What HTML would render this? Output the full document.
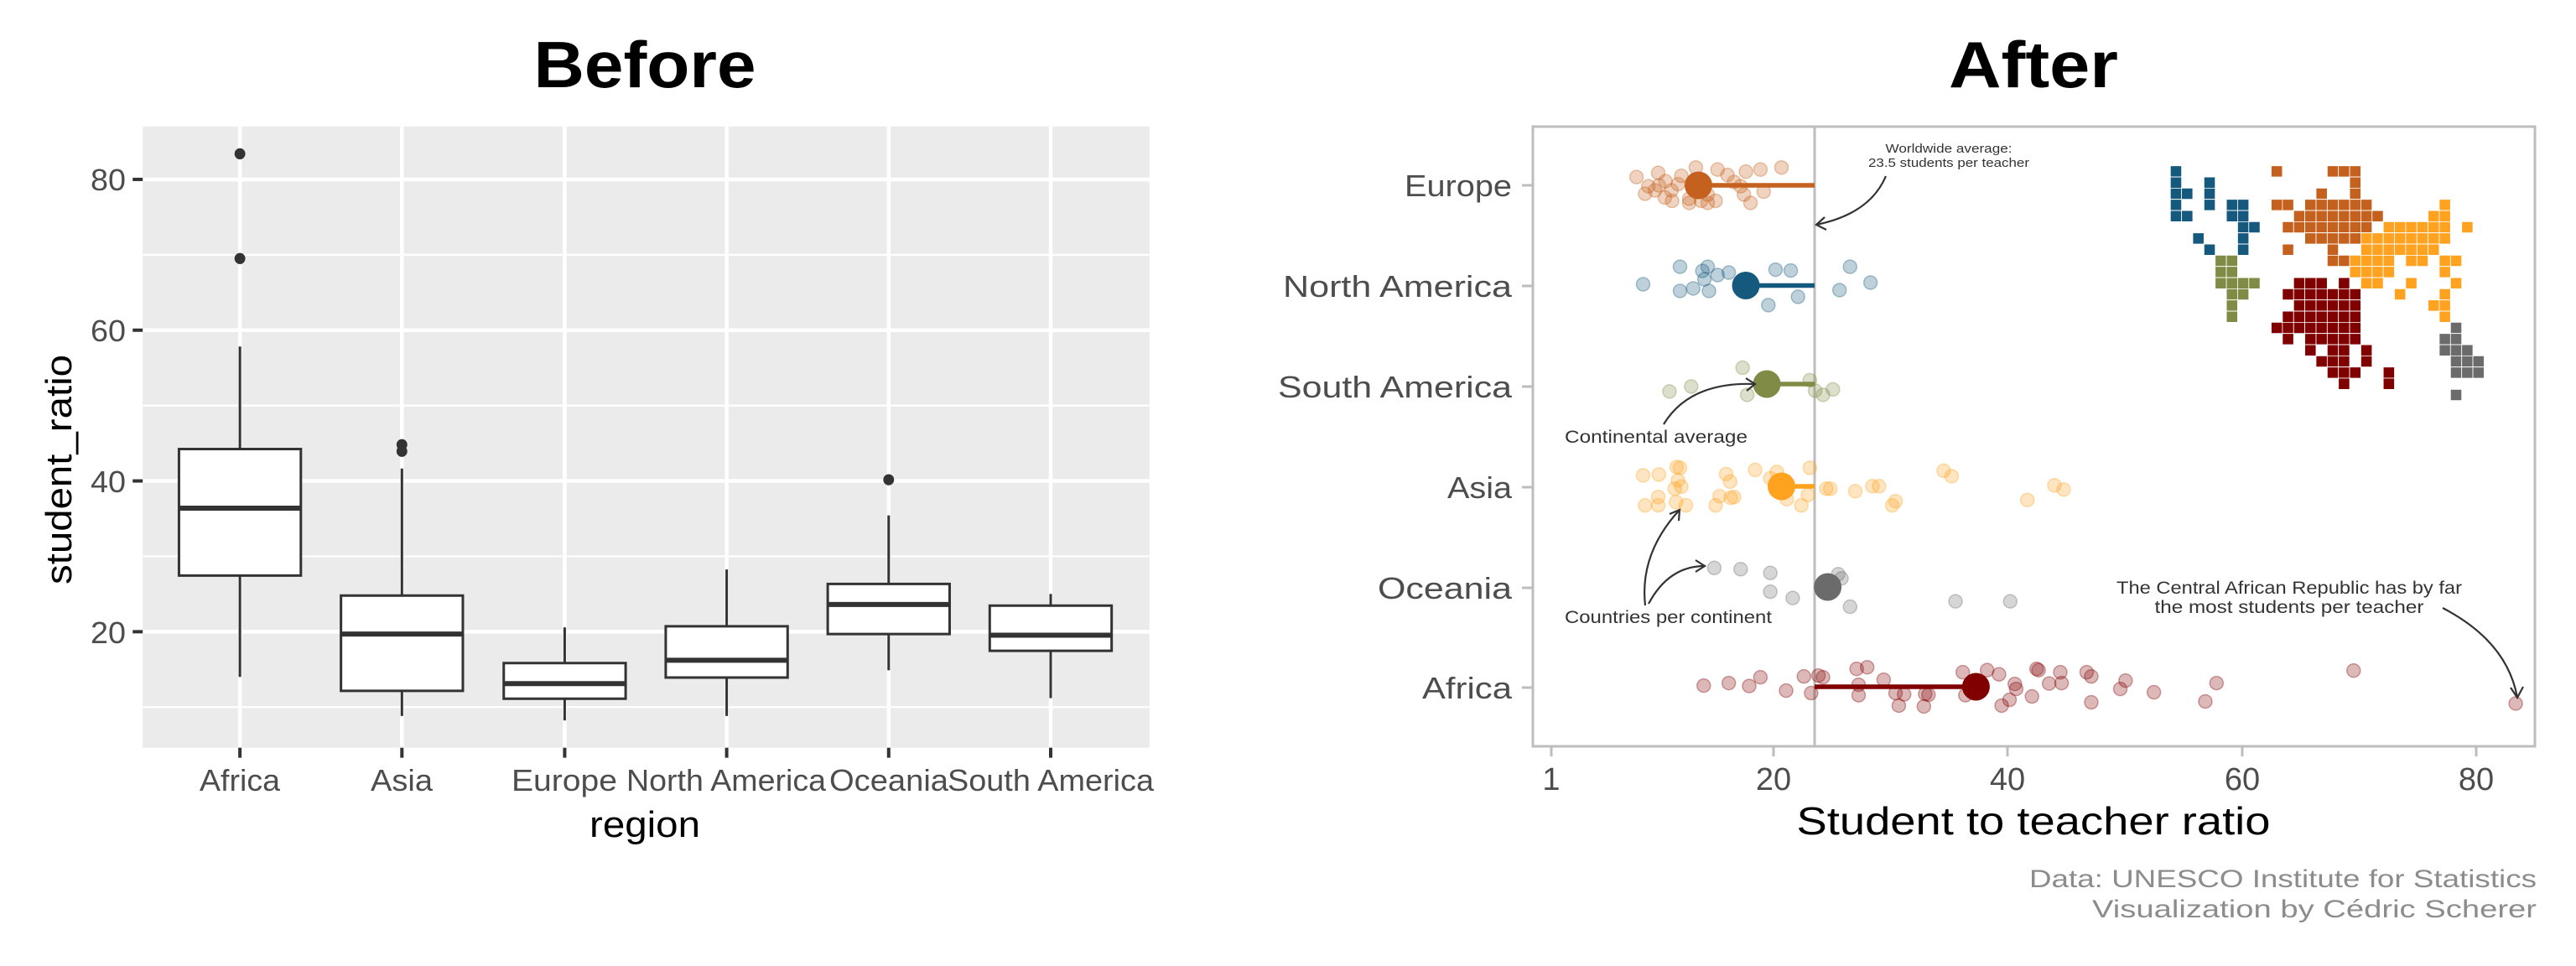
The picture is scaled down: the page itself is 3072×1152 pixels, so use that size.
<!DOCTYPE html>
<html><head><meta charset="utf-8"><style>
html,body{margin:0;padding:0;background:#fff;}
svg{display:block;}
text{font-family:"Liberation Sans",sans-serif;}
</style></head><body>
<svg id="s" width="3072" height="1152" viewBox="0 0 3072 1152" xmlns="http://www.w3.org/2000/svg">
<rect width="3072" height="1152" fill="#fff"/>
<!-- LEFT PANEL -->
<text x="769" y="104" text-anchor="middle" font-size="78" font-weight="bold" fill="#000" textLength="265" lengthAdjust="spacingAndGlyphs">Before</text>
<g id="L" transform="scale(0.91996 0.66445)"></g>
<g font-family="Liberation Sans Narrow, Liberation Sans, sans-serif" font-size="36" fill="#4d4d4d" text-anchor="end">
<text x="150" y="227" textLength="42" lengthAdjust="spacingAndGlyphs">80</text>
<text x="150" y="407" textLength="42" lengthAdjust="spacingAndGlyphs">60</text>
<text x="150" y="587" textLength="42" lengthAdjust="spacingAndGlyphs">40</text>
<text x="150" y="767" textLength="42" lengthAdjust="spacingAndGlyphs">20</text>
</g>
<g font-size="36" fill="#4d4d4d" text-anchor="middle">
<text x="286" y="943" textLength="96" lengthAdjust="spacingAndGlyphs">Africa</text>
<text x="479" y="943" textLength="74" lengthAdjust="spacingAndGlyphs">Asia</text>
<text x="673" y="943" textLength="126" lengthAdjust="spacingAndGlyphs">Europe</text>
<text x="866" y="943" textLength="238" lengthAdjust="spacingAndGlyphs">North America</text>
<text x="1060" y="943" textLength="142" lengthAdjust="spacingAndGlyphs">Oceania</text>
<text x="1253" y="943" textLength="246" lengthAdjust="spacingAndGlyphs">South America</text>
</g>
<text x="769" y="998" text-anchor="middle" font-size="44" fill="#000" textLength="132" lengthAdjust="spacingAndGlyphs">region</text>
<text transform="translate(85 560) rotate(-90)" text-anchor="middle" font-size="44" fill="#000" textLength="274" lengthAdjust="spacingAndGlyphs">student_ratio</text>

<!-- RIGHT PANEL -->
<text x="2425" y="104" text-anchor="middle" font-size="78" font-weight="bold" fill="#000" textLength="202" lengthAdjust="spacingAndGlyphs">After</text>
<rect x="1828" y="151" width="1195" height="739" fill="none" stroke="#bdbdbd" stroke-width="3"/>
<g stroke="#bdbdbd" stroke-width="3">
<line x1="1815" y1="221" x2="1828" y2="221"/><line x1="1815" y1="341" x2="1828" y2="341"/>
<line x1="1815" y1="461" x2="1828" y2="461"/><line x1="1815" y1="581" x2="1828" y2="581"/>
<line x1="1815" y1="701" x2="1828" y2="701"/><line x1="1815" y1="820" x2="1828" y2="820"/>
<line x1="1850" y1="890" x2="1850" y2="902"/><line x1="2115" y1="890" x2="2115" y2="902"/>
<line x1="2394" y1="890" x2="2394" y2="902"/><line x1="2674" y1="890" x2="2674" y2="902"/>
<line x1="2953" y1="890" x2="2953" y2="902"/>
<line x1="2164" y1="151" x2="2164" y2="890"/>
</g>
<g font-size="36" fill="#4d4d4d" text-anchor="end">
<text x="1803" y="234" textLength="128" lengthAdjust="spacingAndGlyphs">Europe</text>
<text x="1803" y="354" textLength="273" lengthAdjust="spacingAndGlyphs">North America</text>
<text x="1803" y="474" textLength="279" lengthAdjust="spacingAndGlyphs">South America</text>
<text x="1803" y="594" textLength="77" lengthAdjust="spacingAndGlyphs">Asia</text>
<text x="1803" y="714" textLength="160" lengthAdjust="spacingAndGlyphs">Oceania</text>
<text x="1803" y="833" textLength="107" lengthAdjust="spacingAndGlyphs">Africa</text>
</g>
<g font-family="Liberation Mono, monospace" font-size="38" fill="#4d4d4d" text-anchor="middle">
<text x="1850" y="942">1</text><text x="2115" y="942">20</text><text x="2394" y="942">40</text>
<text x="2674" y="942">60</text><text x="2953" y="942">80</text>
</g>
<text x="2425" y="995" text-anchor="middle" font-size="46" fill="#000" textLength="565" lengthAdjust="spacingAndGlyphs">Student to teacher ratio</text>
<g font-size="30" fill="#8c8c8c" text-anchor="end">
<text x="3025" y="1058" textLength="605" lengthAdjust="spacingAndGlyphs">Data: UNESCO Institute for Statistics</text>
<text x="3025" y="1094" textLength="530" lengthAdjust="spacingAndGlyphs">Visualization by Cédric Scherer</text>
</g>
<g id="R" transform="translate(1840 140) scale(0.786 0.4975)"></g>
<g id="A"></g>
<g fill="none" stroke="#333" stroke-width="2.2">
<path d="M2249 210 Q2230 255 2166 268"/><path d="M2176 259 L2166 268 L2178 274"/>
<path d="M1984 506 Q2015 455 2093 458"/><path d="M2082 451 L2093 458 L2083 466"/>
<path d="M1962 722 Q1955 660 2003 608"/><path d="M1991 613 L2003 608 L2002 621"/>
<path d="M1966 720 Q1990 675 2033 675"/><path d="M2022 668 L2033 675 L2022 682"/>
<path d="M2913 725 Q2990 765 3002 832"/><path d="M2994 820 L3002 832 L3009 819"/>
</g>
<g fill="#333" font-size="15" text-anchor="middle">
<text x="2324" y="182" textLength="151" lengthAdjust="spacingAndGlyphs">Worldwide average:</text>
<text x="2324" y="199" textLength="192" lengthAdjust="spacingAndGlyphs">23.5 students per teacher</text>
</g>
<g fill="#333" font-size="21">
<text x="1866" y="528" textLength="218" lengthAdjust="spacingAndGlyphs">Continental average</text>
<text x="1866" y="743" textLength="247" lengthAdjust="spacingAndGlyphs">Countries per continent</text>
<text x="2730" y="708" text-anchor="middle" textLength="412" lengthAdjust="spacingAndGlyphs">The Central African Republic has by far</text>
<text x="2730" y="731" text-anchor="middle" textLength="321" lengthAdjust="spacingAndGlyphs">the most students per teacher</text>
</g>
</svg>
<script>
var NS="http://www.w3.org/2000/svg";
function el(p,t,a){var e=document.createElementNS(NS,t);for(var k in a)e.setAttribute(k,a[k]);p.appendChild(e);return e;}
var L=document.getElementById('L');
el(L,'rect',{x:185,y:227,width:1305,height:1115,fill:'#ebebeb'});
function yv(v){return 322+(80-v)*13.53;}
[10,30,50,70].forEach(function(v){el(L,'line',{x1:185,x2:1490,y1:yv(v),y2:yv(v),stroke:'#fff','stroke-width':2.2,'vector-effect':'non-scaling-stroke'});});
[20,40,60,80].forEach(function(v){el(L,'line',{x1:185,x2:1490,y1:yv(v),y2:yv(v),stroke:'#fff','stroke-width':4.5,'vector-effect':'non-scaling-stroke'});
 el(L,'line',{x1:172,x2:185,y1:yv(v),y2:yv(v),stroke:'#333','stroke-width':4,'vector-effect':'non-scaling-stroke'});});
var xs=[311,521,732,942,1152,1362];
xs.forEach(function(x){el(L,'line',{x1:x,x2:x,y1:227,y2:1342,stroke:'#fff','stroke-width':4.5,'vector-effect':'non-scaling-stroke'});
 el(L,'line',{x1:x,x2:x,y1:1342,y2:1360,stroke:'#333','stroke-width':4,'vector-effect':'non-scaling-stroke'});});
var B=[[806,912,1033,622,1215,[276,464]],[1069,1138,1240,841,1285,[798,810]],[1190,1227,1254,1126,1293,[]],[1124,1185,1216,1022,1285,[]],[1048,1085,1138,925,1203,[861]],[1087,1140,1168,1066,1253,[]]];
B.forEach(function(b,i){var x=xs[i];var sw={'stroke':'#333','stroke-width':3,'vector-effect':'non-scaling-stroke'};
 el(L,'line',Object.assign({x1:x,x2:x,y1:b[3],y2:b[0]},sw));
 el(L,'line',Object.assign({x1:x,x2:x,y1:b[2],y2:b[4]},sw));
 el(L,'rect',Object.assign({x:x-79,y:b[0],width:158,height:b[2]-b[0],fill:'#fff'},sw));
 el(L,'line',{x1:x-79,x2:x+79,y1:b[1],y2:b[1],stroke:'#333','stroke-width':6,'vector-effect':'non-scaling-stroke'});
 b[5].forEach(function(y){el(L,'ellipse',{cx:x,cy:y,rx:7,ry:10,fill:'#333'});});
});
var R=document.getElementById('R');
var C={eu:'#c5611e',na:'#16597f',sa:'#808b45',as:'#ffa21f',oc:'#6b6b6b',af:'#800000'};
var P={
eu:[[142,143],[175,133],[160,165],[186,153],[210,140],[232,120],[265,125],[280,138],[308,130],[330,125],[362,120],[155,183],[170,175],[185,192],[196,200],[222,205],[240,200],[250,205],[262,200],[300,165],[305,185],[315,205],[335,178],[195,175],[176,163],[205,160],[250,185],[290,155],[222,195]],
na:[[152,400],[208,358],[242,368],[250,358],[265,378],[282,372],[245,388],[208,416],[228,410],[252,416],[353,365],[376,367],[387,430],[342,450],[466,358],[497,396],[450,414]],
sa:[[303,600],[225,645],[192,657],[310,665],[405,630],[413,655],[425,665],[440,652]],
as:[[152,858],[176,856],[203,838],[208,840],[205,870],[210,885],[200,890],[175,910],[155,930],[175,930],[202,922],[217,930],[262,930],[268,908],[285,912],[290,910],[278,855],[284,873],[322,845],[345,865],[355,850],[370,915],[392,930],[402,905],[405,840],[430,890],[436,890],[474,896],[500,884],[510,884],[535,920],[530,930],[608,847],[620,860],[735,917],[776,882],[790,892]],
oc:[[260,1080],[300,1083],[345,1092],[345,1137],[379,1152],[448,1095],[453,1105],[466,1173],[626,1160],[709,1160]],
af:[[244,1362],[282,1356],[313,1363],[330,1342],[369,1374],[396,1340],[407,1380],[418,1338],[425,1342],[476,1322],[492,1318],[479,1360],[479,1385],[517,1348],[540,1410],[535,1380],[548,1383],[578,1412],[580,1382],[585,1384],[637,1330],[641,1385],[674,1325],[692,1335],[696,1410],[708,1396],[716,1358],[718,1370],[742,1388],[749,1322],[752,1325],[768,1357],[785,1330],[787,1356],[825,1330],[832,1340],[832,1402],[876,1370],[884,1350],[927,1378],[1005,1400],[1022,1356],[1230,1326],[1476,1405]]};
var A=document.getElementById('A');
var AV={eu:[2025.5,221],na:[2082,340.5],sa:[2107,458],as:[2124.5,580],oc:[2179.6,700],af:[2356.4,819]};
for(var k in P){var c=C[k];
 P[k].forEach(function(p){el(R,'ellipse',{cx:p[0],cy:p[1],rx:10.2,ry:16.1,fill:c,'fill-opacity':0.28,stroke:c,'stroke-opacity':0.35,'stroke-width':1.5,'vector-effect':'non-scaling-stroke'});});
 var a=AV[k];el(A,'line',{x1:2164,x2:a[0],y1:a[1],y2:a[1],stroke:c,'stroke-width':5.5});
 el(A,'circle',{cx:a[0],cy:a[1],r:16.5,fill:c});
}
function tiles(col,list){list.forEach(function(r){var row=r[0];for(var i=1;i<r.length;i++){var cs=r[i];var a0=cs[0],a1=cs.length>1?cs[1]:cs[0];for(var cc=a0;cc<=a1;cc++){el(R,'rect',{x:952+17*cc,y:116+26.8*row,width:17,height:26.8,fill:col,stroke:'#fff','stroke-width':0.8,'vector-effect':'non-scaling-stroke'});}}});}
tiles(C.na,[[0,[0]],[1,[0],[3]],[2,[0,1],[3]],[3,[0],[3],[5,6]],[4,[0,1],[5,6]],[5,[6,7]],[6,[2],[6]],[7,[3],[6]]]);
tiles(C.eu,[[0,[9],[14,16]],[1,[16]],[2,[13],[16]],[3,[9,10],[12,17]],[4,[11,18]],[5,[10,17]],[6,[12,17]],[7,[10],[14]],[8,[14,15]]]);
tiles(C.as,[[3,[24]],[4,[23,24]],[5,[19,24],[26]],[6,[17,24]],[7,[17,23]],[8,[16,19],[21,22],[24,25]],[9,[16,19],[24]],[10,[17,18],[21],[25]],[11,[20],[24]],[12,[23,24]],[13,[24]]]);
tiles(C.sa,[[8,[4,5]],[9,[4,5]],[10,[4,7]],[11,[5,6]],[12,[5]],[13,[5]]]);
tiles(C.af,[[10,[11,13],[15]],[11,[10,16]],[12,[11,16]],[13,[10,16]],[14,[9,16]],[15,[10],[12,16]],[16,[12],[14,15],[17]],[17,[13,15],[17]],[18,[14,16],[19]],[19,[15],[19]]]);
tiles(C.oc,[[14,[25]],[15,[24,25]],[16,[24,26]],[17,[25,27]],[18,[25,27]],[20,[25]]]);
</script>
</body></html>
